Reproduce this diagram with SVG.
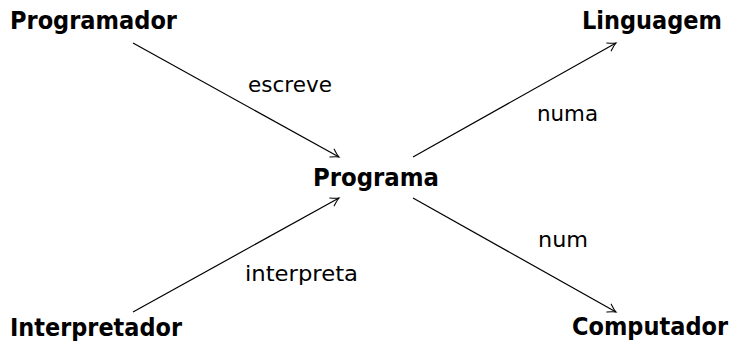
<svg xmlns="http://www.w3.org/2000/svg" width="736" height="345" viewBox="0 0 736 345">
  <defs>
    <marker id="to" viewBox="-10 -6 12 12" refX="0" refY="0" markerWidth="12" markerHeight="12" markerUnits="userSpaceOnUse" orient="auto">
      <path d="M -8 -4.5 Q -3 -1 0 0 Q -3 1 -8 4.5" fill="none" stroke="#000" stroke-width="1.1" stroke-linecap="round"/>
    </marker>
  </defs>
  <style>
    .node { font-family: "DejaVu Sans", "Liberation Sans", sans-serif; font-weight: bold; font-size: 24px; fill: #000; }
    .lbl { font-family: "DejaVu Sans", "Liberation Sans", sans-serif; font-size: 21px; fill: #000; }
    .edge { stroke: #000; stroke-width: 1.2; fill: none; marker-end: url(#to); }
  </style>
  <rect width="736" height="345" fill="#fff"/>
  <g id="connectors">
    <line class="edge" x1="133" y1="43" x2="339" y2="157"/>
    <line class="edge" x1="133" y1="312" x2="339" y2="198"/>
    <line class="edge" x1="413" y1="157" x2="616" y2="43"/>
    <line class="edge" x1="413" y1="198" x2="616" y2="312"/>
    <text class="lbl" x="248" y="92" textLength="84" lengthAdjust="spacingAndGlyphs">escreve</text>
    <text class="lbl" x="245" y="281" textLength="113" lengthAdjust="spacingAndGlyphs">interpreta</text>
    <text class="lbl" x="537" y="121" textLength="61" lengthAdjust="spacingAndGlyphs">numa</text>
    <text class="lbl" x="538" y="247" textLength="50" lengthAdjust="spacingAndGlyphs">num</text>
  </g>
  <g id="programador">
    <text class="node" x="10" y="29" textLength="167" lengthAdjust="spacingAndGlyphs">Programador</text>
  </g>
  <g id="linguagem">
    <text class="node" x="582" y="29" textLength="140" lengthAdjust="spacingAndGlyphs">Linguagem</text>
  </g>
  <g id="programa">
    <text class="node" x="313" y="186" textLength="126" lengthAdjust="spacingAndGlyphs">Programa</text>
  </g>
  <g id="interpretador">
    <text class="node" x="10" y="336" textLength="172" lengthAdjust="spacingAndGlyphs">Interpretador</text>
  </g>
  <g id="computador">
    <text class="node" x="572" y="335" font-size="22" textLength="156" lengthAdjust="spacingAndGlyphs">Computador</text>
  </g>
</svg>
